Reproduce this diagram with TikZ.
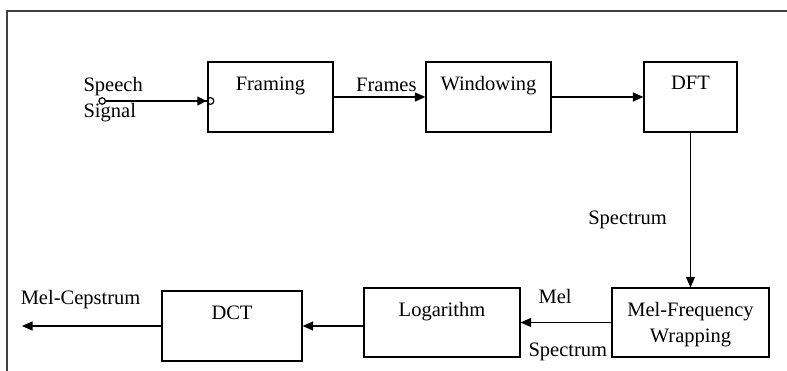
\documentclass[tikz,border=0pt]{standalone}
\usepackage{fontspec}
\setmainfont{Liberation Serif}
\usetikzlibrary{arrows.meta}

\begin{document}
\begin{tikzpicture}
  [x=1pt,y=-1pt,line width=1.2pt,
   every node/.style={font=\fontsize{20.5}{26}\selectfont},
   lbl/.style={inner sep=0pt},
   blk/.style={draw,minimum height=70pt,inner sep=0pt,
     label={[lbl,align=center,anchor=north,yshift=-14.5pt]north:#1}},
   arr/.style={-{Triangle[length=10.5pt,width=9pt]}}]
  \useasboundingbox (0,0) rectangle (787,371);
  \draw[line width=1.5pt,black!75] (7,371) -- (7,11) -- (787,11);

  \node[blk=Framing,minimum width=125pt] (framing) at (270.5,97) {};
  \node[blk=Windowing,minimum width=125pt] (window) at (488.5,97) {};
  \node[blk=DFT,minimum width=93pt] (dft) at (690.5,97) {};
  \node[blk={\fontsize{20.5}{29}\selectfont Mel-Frequency\\Wrapping},
        minimum width=157pt,minimum height=69pt] (mel) at (690.5,322.5) {};
  \node[blk=Logarithm,minimum width=156pt,minimum height=69pt] (logm) at (442,322.5) {};
  \node[blk=DCT,minimum width=140pt] (dct) at (232,326) {};

  \node[lbl,align=left,anchor=north west] (sig) at (83,76.5) {Speech\\Signal};
  \coordinate (sigin) at (98.3,101);
  \coordinate (out) at (22,326);

  \draw[{Circle[open,length=7.7pt]}-{Triangle[length=9pt,width=9pt] Circle[open,length=8pt]},
        shorten >=-7pt] (sigin) -- (framing.west |- sigin);
  \draw[arr] (framing) -- node[lbl,above=5pt,pos=.575] {Frames} (window);
  \draw[arr] (window) -- (dft);
  \draw[arr] (dft) -- node[lbl,left=23pt,pos=.566] {Spectrum} (mel);
  \draw[arr] (mel) -- node[lbl,above=18pt,pos=.62] {Mel}
                      node[lbl,below=20pt,pos=.48] {Spectrum} (logm);
  \draw[arr] (logm.west |- dct) -- (dct);
  \draw[arr] (dct) -- node[lbl,above=17pt,pos=.58] {Mel-Cepstrum} (out);
\end{tikzpicture}
\end{document}
